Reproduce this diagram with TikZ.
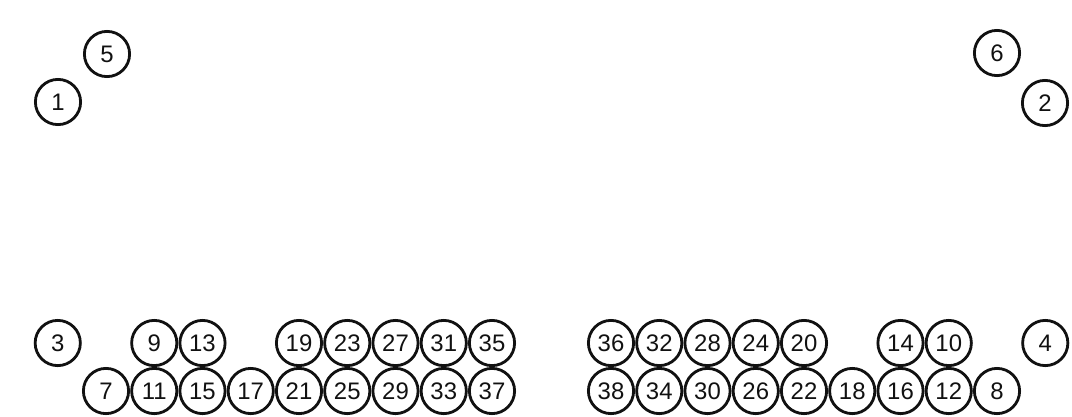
\documentclass[tikz,border=0pt]{standalone}
\usepackage{fontspec}
\setmainfont{Liberation Sans}
\usepackage{tikz}
\definecolor{seatInk}{HTML}{111111}
\tikzset{
  seat/.style={circle,draw=seatInk,line width=2pt,minimum size=1.13cm,inner sep=0pt,
    text=seatInk,font=\fontsize{17}{17}\selectfont}
}

\begin{document}
\begin{tikzpicture}[x=0.025cm,y=-0.025cm]
  \useasboundingbox (0,0) rectangle (1072,416);
  % corner seats
  \node[seat] (s1) at (58,102) {1};
  \node[seat] (s5) at (107,54) {5};
  \node[seat] (s6) at (997,53) {6};
  \node[seat] (s2) at (1045,103) {2};
  % left block
  \foreach \n [count=\c from 0] in {7,11,15,17,21,25,29,33,37}
    \node[seat] (s\n) at ({106+\c*48.25},391) {\n};
  \foreach \n/\c in {3/-1,9/1,13/2,19/4,23/5,27/6,31/7,35/8}
    \node[seat] (s\n) at ({106+\c*48.25},343) {\n};
  % right block
  \foreach \n [count=\c from 0] in {38,34,30,26,22,18,16,12,8}
    \node[seat] (s\n) at ({611+\c*48.25},391) {\n};
  \foreach \n/\c in {36/0,32/1,28/2,24/3,20/4,14/6,10/7,4/9}
    \node[seat] (s\n) at ({611+\c*48.25},343) {\n};
\end{tikzpicture}
\end{document}
